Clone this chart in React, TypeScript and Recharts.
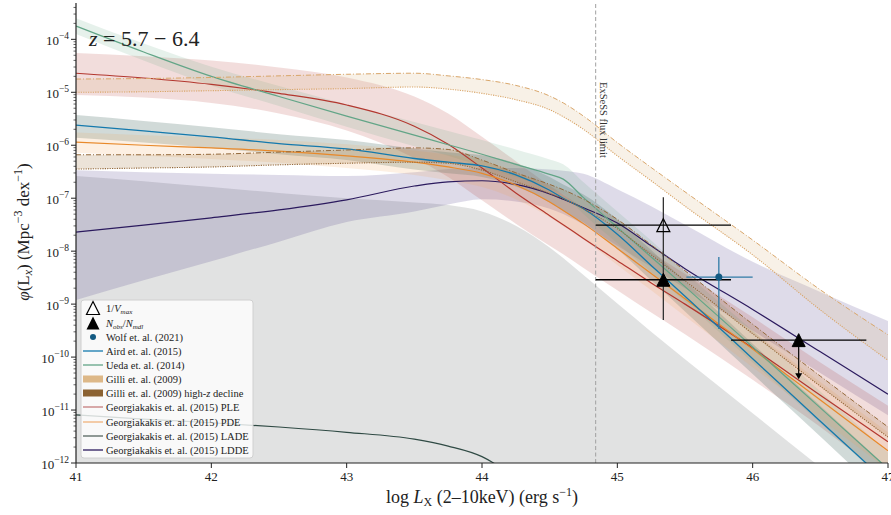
import React from 'react';
import { ComposedChart, Area, Line, Scatter, XAxis, YAxis, ReferenceLine, ErrorBar } from 'recharts';

const W = 891;
const H = 515;
const SERIF = '"Liberation Serif", "DejaVu Serif", serif';

// log10 L_X grid (erg/s) shared by the model curves
const LOG_LX = [41, 41.5, 42, 42.5, 43, 43.5, 43.75, 44, 44.25, 44.5, 44.6, 44.75, 45, 45.25, 45.5, 46, 46.5, 47];

// everything below is log10 phi (Mpc^-3 dex^-1)
const UEDA = [-3.75, -4.24, -4.7, -5.08, -5.45, -5.81, -5.99, -6.17, -6.36, -6.55, -6.64, -6.99, -7.55, -8.11, -8.67, -9.81, -10.96, -12.11];
const UEDA_HI = [-3.6, -4.08, -4.52, -4.88, -5.23, -5.56, -5.73, -5.9, -6.08, -6.27, -6.36, -6.7, -7.25, -7.8, -8.4, -9.5, -10.65, -11.8];
const UEDA_LO = [-3.9, -4.4, -4.87, -5.26, -5.65, -6.02, -6.2, -6.4, -6.6, -6.82, -6.92, -7.3, -7.85, -8.4, -8.95, -10.1, -11.25, -12.4];

const AIRD = [-5.62, -5.73, -5.84, -5.97, -6.07, -6.25, -6.32, -6.39, -6.56, -6.85, -7.0, -7.2, -7.68, -8.27, -8.85, -10.03, -11.21, -12.38];
const AIRD_HI = [-5.43, -5.54, -5.66, -5.79, -5.9, -6.06, -6.13, -6.19, -6.34, -6.6, -6.74, -6.93, -7.4, -7.98, -8.56, -9.75, -10.92, -12.1];
const AIRD_LO = [-5.86, -5.95, -6.05, -6.17, -6.28, -6.46, -6.53, -6.6, -6.78, -7.08, -7.24, -7.46, -7.96, -8.55, -9.14, -10.32, -11.5, -12.7];

const GILLI_HI = [-4.75, -4.74, -4.72, -4.69, -4.66, -4.64, -4.69, -4.76, -4.87, -5.07, -5.2, -5.45, -5.95, -6.42, -6.88, -7.79, -8.73, -9.58];
const GILLI_LO = [-5.0, -4.99, -4.97, -4.95, -4.93, -4.9, -4.94, -5.02, -5.14, -5.33, -5.46, -5.7, -6.2, -6.67, -7.15, -8.07, -9.11, -10.06];

const GILLI_HZ_HI = [-6.18, -6.18, -6.17, -6.13, -6.09, -6.05, -6.08, -6.28, -6.52, -6.74, -6.84, -7.02, -7.4, -7.88, -8.37, -9.38, -10.36, -11.32];
const GILLI_HZ_LO = [-6.45, -6.43, -6.41, -6.37, -6.34, -6.32, -6.34, -6.47, -6.69, -6.91, -7.01, -7.2, -7.58, -8.07, -8.56, -9.56, -10.55, -11.51];

const PLE = [-4.64, -4.73, -4.85, -5.02, -5.24, -5.64, -5.98, -6.43, -6.9, -7.33, -7.5, -7.76, -8.18, -8.6, -9.0, -9.83, -10.72, -11.6];
const PLE_HI = [-4.26, -4.32, -4.4, -4.53, -4.72, -5.08, -5.4, -5.84, -6.3, -6.76, -6.93, -7.18, -7.6, -8.02, -8.43, -9.25, -10.1, -10.92];
const PLE_LO = [-5.05, -5.1, -5.2, -5.4, -5.72, -6.24, -6.6, -7.04, -7.48, -7.9, -8.06, -8.32, -8.74, -9.16, -9.57, -10.43, -11.32, -12.3];

const PDE = [-5.94, -6.0, -6.05, -6.11, -6.2, -6.32, -6.41, -6.53, -6.75, -7.07, -7.23, -7.48, -7.95, -8.42, -8.9, -9.85, -10.81, -11.77];
const PDE_HI = [-5.76, -5.81, -5.85, -5.9, -5.98, -6.1, -6.18, -6.29, -6.5, -6.8, -6.95, -7.19, -7.65, -8.11, -8.58, -9.52, -10.47, -11.42];
const PDE_LO = [-6.14, -6.2, -6.26, -6.33, -6.43, -6.56, -6.66, -6.79, -7.02, -7.36, -7.53, -7.78, -8.26, -8.74, -9.23, -10.19, -11.16, -12.13];

const LADE = [-11.09, -11.17, -11.24, -11.32, -11.42, -11.55, -11.68, -11.88, -12.3, -12.9, -13.2, -13.7, -14.5, -15, -15.5, -16, -16.5, -17];
const LADE_HI = [-6.58, -6.68, -6.79, -6.9, -7.0, -7.08, -7.13, -7.25, -7.52, -7.93, -8.13, -8.45, -8.99, -9.52, -10.04, -11.06, -12.08, -13.1];
const BAND_FLOOR = -16;

const LDDE = [-7.64, -7.51, -7.37, -7.22, -7.03, -6.77, -6.69, -6.67, -6.74, -6.92, -7.02, -7.18, -7.47, -7.9, -8.33, -9.1, -9.9, -10.7];
const LDDE_HI = [-6.47, -6.51, -6.54, -6.56, -6.58, -6.51, -6.45, -6.43, -6.43, -6.46, -6.48, -6.54, -6.83, -7.15, -7.5, -8.2, -8.77, -9.32];
const LDDE_LO = [-8.92, -8.55, -8.19, -7.82, -7.45, -7.25, -7.12, -7.02, -7.06, -7.2, -7.3, -7.5, -7.9, -8.3, -8.7, -9.5, -10.3, -11.1];

// measured points (log L_X, log phi)
const OBS_LX = [45.34];
const OBS_LX_LO = [44.84];
const OBS_LX_HI = [45.84];
const VMAX_PHI = [-7.51];
const VMAX_PHI_LO = [-8.1];
const VMAX_PHI_HI = [-6.98];
const NOBS_PHI = [-8.54];
const NOBS_PHI_LO = [-9.3];
const NOBS_PHI_HI = [-8.0];

const UL_LX = [46.34];
const UL_LX_LO = [45.84];
const UL_LX_HI = [46.84];
const UL_PHI = [-9.68];

const WOLF_LX = [45.75];
const WOLF_LX_LO = [45.51];
const WOLF_LX_HI = [46.0];
const WOLF_PHI = [-8.49];
const WOLF_PHI_LO = [-9.47];
const WOLF_PHI_HI = [-8.11];

const FLUX_LIMIT = 44.84;

const C = {
  ueda: '#62a587',
  uedaBand: '#5aa07a',
  aird: '#1479ad',
  airdBand: '#466d64',
  gilli: '#d9a66a',
  gilliBand: '#deb887',
  gilliHz: '#94693a',
  gilliHzBand: '#a0723c',
  ple: '#b3372f',
  pde: '#e8892a',
  pdeBand: '#f0a050',
  lade: '#2f4a44',
  ladeBand: '#5a5f5c',
  ldde: '#2b1a5e',
  lddeBand: '#3b2a7a',
  wolf: '#135a82',
  wolfBar: '#2f7ba6',
};

const p10 = (v: number) => Math.pow(10, v);

const rows = LOG_LX.map((x, i) => ({
  x,
  ueda: p10(UEDA[i]),
  uedaBand: [p10(UEDA_LO[i]), p10(UEDA_HI[i])],
  aird: p10(AIRD[i]),
  airdBand: [p10(AIRD_LO[i]), p10(AIRD_HI[i])],
  gilliHi: p10(GILLI_HI[i]),
  gilliLo: p10(GILLI_LO[i]),
  gilliBand: [p10(GILLI_LO[i]), p10(GILLI_HI[i])],
  gilliHzHi: p10(GILLI_HZ_HI[i]),
  gilliHzLo: p10(GILLI_HZ_LO[i]),
  gilliHzBand: [p10(GILLI_HZ_LO[i]), p10(GILLI_HZ_HI[i])],
  ple: p10(PLE[i]),
  pleBand: [p10(PLE_LO[i]), p10(PLE_HI[i])],
  pde: p10(PDE[i]),
  pdeBand: [p10(PDE_LO[i]), p10(PDE_HI[i])],
  lade: p10(LADE[i]),
  ladeBand: [p10(BAND_FLOOR), p10(LADE_HI[i])],
  ldde: p10(LDDE[i]),
  lddeBand: [p10(LDDE_LO[i]), p10(LDDE_HI[i])],
}));

const pointRows = (lx: number[], lxLo: number[], lxHi: number[], phi: number[], phiLo?: number[], phiHi?: number[]) =>
  lx.map((x, i) => ({
    x,
    y: p10(phi[i]),
    ex: [x - lxLo[i], lxHi[i] - x],
    ey: phiLo && phiHi ? [p10(phi[i]) - p10(phiLo[i]), p10(phiHi[i]) - p10(phi[i])] : [0, 0],
  }));

const vmaxPts = pointRows(OBS_LX, OBS_LX_LO, OBS_LX_HI, VMAX_PHI, VMAX_PHI_LO, VMAX_PHI_HI);
const nobsPts = pointRows(OBS_LX, OBS_LX_LO, OBS_LX_HI, NOBS_PHI, NOBS_PHI_LO, NOBS_PHI_HI);
const ulPts = pointRows(UL_LX, UL_LX_LO, UL_LX_HI, UL_PHI);
const wolfPts = pointRows(WOLF_LX, WOLF_LX_LO, WOLF_LX_HI, WOLF_PHI, WOLF_PHI_LO, WOLF_PHI_HI);

const Y_MIN = 1e-12;
const Y_MAX = p10(-3.314);

const yTicks: number[] = [];
for (let n = -12; n <= -4; n++) {
  for (let k = 1; k <= 9; k++) {
    const v = k * Number(`1e${n}`);
    if (v <= Y_MAX) yTicks.push(v);
  }
}

const YTick = (props: any) => {
  const { x, y, payload } = props;
  const lg = Math.log10(payload.value);
  const major = Math.abs(lg - Math.round(lg)) < 1e-6;
  return (
    <g>
      <line x1={x - (major ? 5 : 2.5)} x2={x} y1={y} y2={y} stroke="#222" strokeWidth={major ? 1 : 0.7} />
      {major && (
        <text x={x - 7} y={y + 5.5} textAnchor="end" fontFamily={SERIF} fontSize={13} fill="#222">
          10<tspan dy={-5.5} fontSize={9.5}>{`−${-Math.round(lg)}`}</tspan>
        </text>
      )}
    </g>
  );
};

const XTick = (props: any) => {
  const { x, y, payload } = props;
  return (
    <g>
      <line x1={x} x2={x} y1={y} y2={y + 5} stroke="#222" strokeWidth={1} />
      <text x={x} y={y + 18} textAnchor="middle" fontFamily={SERIF} fontSize={13} fill="#222">
        {payload.value}
      </text>
    </g>
  );
};

const triPath = (cx: number, cy: number, s = 6.5) => `M${cx},${cy - s} L${cx + s},${cy + s} L${cx - s},${cy + s} Z`;

const OpenTri = (p: any) => <path d={triPath(p.cx, p.cy)} fill="none" stroke="#000" strokeWidth={1.2} />;
const FilledTri = (p: any) => <path d={triPath(p.cx, p.cy)} fill="#000" stroke="#000" strokeWidth={1} />;
const UpperLimit = (p: any) => (
  <g>
    <line x1={p.cx} x2={p.cx} y1={p.cy} y2={p.cy + 34} stroke="#000" strokeWidth={1.2} />
    <path d={`M${p.cx - 3.5},${p.cy + 33} L${p.cx + 3.5},${p.cy + 33} L${p.cx},${p.cy + 39} Z`} fill="#000" />
    <path d={triPath(p.cx, p.cy)} fill="#000" stroke="#000" strokeWidth={1} />
  </g>
);
const WolfDot = (p: any) => <circle cx={p.cx} cy={p.cy} r={3.5} fill={C.wolf} />;

const LEGEND_LINES = [
  { label: 'Aird et. al. (2015)', color: C.aird },
  { label: 'Ueda et. al. (2014)', color: C.ueda },
];
const LEGEND_GEORGIAKAKIS = [
  { label: 'Georgiakakis et. al. (2015) PLE', color: '#c47c7c' },
  { label: 'Georgiakakis et. al. (2015) PDE', color: '#f0b27a' },
  { label: 'Georgiakakis et. al. (2015) LADE', color: '#56655f' },
  { label: 'Georgiakakis et. al. (2015) LDDE', color: C.ldde },
];

const LegendBox = () => {
  const ix0 = 83;
  const ix1 = 103;
  const tx = 106;
  const fs = 10.5;
  const rowY = [308, 323, 337, 351, 365, 379, 393, 407, 422, 436, 450];
  const txt = (i: number, content: React.ReactNode) => (
    <text x={tx} y={rowY[i] + 3.5} fontFamily={SERIF} fontSize={fs} fill="#222">
      {content}
    </text>
  );
  return (
    <g>
      <rect x={81} y={300} width={172} height={158} rx={3} fill="#fff" fillOpacity={0.8} stroke="#d0d0d0" />
      <path d={triPath(93, rowY[0])} fill="#fff" stroke="#000" strokeWidth={1.2} />
      {txt(0, <><tspan>1/</tspan><tspan fontStyle="italic">V</tspan><tspan fontStyle="italic" fontSize={7} dy={2}>max</tspan></>)}
      <path d={triPath(93, rowY[1])} fill="#000" />
      {txt(1, <><tspan fontStyle="italic">N</tspan><tspan fontStyle="italic" fontSize={7} dy={2}>obs</tspan><tspan dy={-2}>/</tspan><tspan fontStyle="italic">N</tspan><tspan fontStyle="italic" fontSize={7} dy={2}>mdl</tspan></>)}
      <circle cx={93} cy={rowY[2]} r={3} fill={C.wolf} />
      {txt(2, 'Wolf et. al. (2021)')}
      {LEGEND_LINES.map((e, i) => (
        <g key={e.label}>
          <line x1={ix0} x2={ix1} y1={rowY[3 + i]} y2={rowY[3 + i]} stroke={e.color} strokeWidth={1.3} />
          {txt(3 + i, e.label)}
        </g>
      ))}
      <rect x={ix0} y={rowY[5] - 3.5} width={ix1 - ix0} height={7} fill="#ddb888" />
      {txt(5, 'Gilli et. al. (2009)')}
      <rect x={ix0} y={rowY[6] - 3.5} width={ix1 - ix0} height={7} fill="#8b6232" />
      {txt(6, <>Gilli et. al. (2009) high-<tspan fontStyle="italic">z</tspan> decline</>)}
      {LEGEND_GEORGIAKAKIS.map((e, i) => (
        <g key={e.label}>
          <line x1={ix0} x2={ix1} y1={rowY[7 + i]} y2={rowY[7 + i]} stroke={e.color} strokeWidth={1.3} />
          {txt(7 + i, e.label)}
        </g>
      ))}
    </g>
  );
};

const band = (key: string, color: string, opacity: number) => (
  <Area
    key={key}
    dataKey={key}
    type="monotone"
    fill={color}
    fillOpacity={opacity}
    stroke="none"
    dot={false}
    activeDot={false}
    isAnimationActive={false}
  />
);

const curve = (key: string, color: string, width = 1.2, dash?: string) => (
  <Line
    key={key}
    dataKey={key}
    type="monotone"
    stroke={color}
    strokeWidth={width}
    strokeDasharray={dash}
    dot={false}
    activeDot={false}
    isAnimationActive={false}
  />
);

export default function App() {
  return (
    <div style={{ position: 'absolute', left: 0, top: 0, width: W, height: H, background: '#fff' }}>
      <ComposedChart width={W} height={H} data={rows} margin={{ top: 3, right: 3, bottom: 0, left: 0 }}>
        <XAxis
          dataKey="x"
          type="number"
          domain={[41, 47]}
          ticks={[41, 42, 43, 44, 45, 46, 47]}
          interval={0}
          allowDataOverflow
          height={52}
          tickSize={0}
          tickMargin={0}
          tickLine={false}
          tick={<XTick />}
          axisLine={{ stroke: '#222', strokeWidth: 1.2 }}
        />
        <XAxis xAxisId="top" orientation="top" type="number" domain={[41, 47]} height={0} tick={false} tickLine={false} axisLine={{ stroke: '#222', strokeWidth: 1.2 }} />
        <YAxis
          type="number"
          scale="log"
          domain={[Y_MIN, Y_MAX]}
          ticks={yTicks}
          interval={0}
          allowDataOverflow
          width={76}
          tickSize={0}
          tickMargin={0}
          tickLine={false}
          tick={<YTick />}
          axisLine={{ stroke: '#222', strokeWidth: 1.2 }}
        />
        <YAxis yAxisId="right" orientation="right" type="number" domain={[0, 1]} width={0} tick={false} tickLine={false} axisLine={{ stroke: '#222', strokeWidth: 1.2 }} />

        {band('ladeBand', C.ladeBand, 0.18)}
        {band('lddeBand', C.lddeBand, 0.17)}
        {band('pleBand', C.ple, 0.17)}
        {band('airdBand', C.airdBand, 0.25)}
        {band('uedaBand', C.uedaBand, 0.15)}
        {band('pdeBand', C.pdeBand, 0.16)}
        {band('gilliBand', C.gilliBand, 0.2)}
        {band('gilliHzBand', C.gilliHzBand, 0.2)}

        {curve('lade', C.lade)}
        {curve('ldde', C.ldde)}
        {curve('ple', C.ple)}
        {curve('pde', C.pde)}
        {curve('ueda', C.ueda)}
        {curve('aird', C.aird, 1.3)}
        {curve('gilliHi', C.gilli, 1, '5 2 1 2')}
        {curve('gilliLo', C.gilli, 1.1, '1.2 1.2')}
        {curve('gilliHzHi', C.gilliHz, 1, '5 2 1 2')}
        {curve('gilliHzLo', C.gilliHz, 1.1, '1.2 1.2')}

        <ReferenceLine x={FLUX_LIMIT} stroke="#a0a0a0" strokeWidth={1} strokeDasharray="4 2.5" />

        <Scatter data={vmaxPts} dataKey="y" shape={<OpenTri />} isAnimationActive={false}>
          <ErrorBar dataKey="ey" direction="y" width={0} stroke="#333" strokeWidth={1.3} />
          <ErrorBar dataKey="ex" direction="x" width={0} stroke="#000" strokeWidth={1.3} />
        </Scatter>
        <Scatter data={nobsPts} dataKey="y" shape={<FilledTri />} isAnimationActive={false}>
          <ErrorBar dataKey="ey" direction="y" width={0} stroke="#333" strokeWidth={1.3} />
          <ErrorBar dataKey="ex" direction="x" width={0} stroke="#000" strokeWidth={1.3} />
        </Scatter>
        <Scatter data={wolfPts} dataKey="y" shape={<WolfDot />} isAnimationActive={false}>
          <ErrorBar dataKey="ey" direction="y" width={0} stroke={C.wolfBar} strokeWidth={1.3} />
          <ErrorBar dataKey="ex" direction="x" width={0} stroke={C.wolfBar} strokeWidth={1.3} />
        </Scatter>
        <Scatter data={ulPts} dataKey="y" shape={<UpperLimit />} isAnimationActive={false}>
          <ErrorBar dataKey="ex" direction="x" width={0} stroke="#000" strokeWidth={1.3} />
        </Scatter>
      </ComposedChart>

      <svg width={W} height={H} style={{ position: 'absolute', left: 0, top: 0, pointerEvents: 'none' }}>
        <text x={89} y={46} fontFamily={SERIF} fontSize={22} fill="#222">
          <tspan fontStyle="italic">z</tspan> = 5.7 − 6.4
        </text>
        <text x={600} y={82} transform="rotate(90 600 82)" fontFamily={SERIF} fontSize={10.5} fill="#333">
          ExSeSS flux limit
        </text>
        <text transform="translate(29 232) rotate(-90)" textAnchor="middle" fontFamily={SERIF} fontSize={17} fill="#222">
          <tspan fontStyle="italic">φ</tspan>(L<tspan fontStyle="italic" fontSize={12} dy={3}>x</tspan><tspan dy={-3}>) (Mpc</tspan>
          <tspan fontSize={12} dy={-7}>−3</tspan>
          <tspan dy={7}> dex</tspan>
          <tspan fontSize={12} dy={-7}>−1</tspan>
          <tspan dy={7}>)</tspan>
        </text>
        <text x={482} y={503} textAnchor="middle" fontFamily={SERIF} fontSize={18} fill="#222">
          log <tspan fontStyle="italic">L</tspan><tspan fontSize={12} dy={3}>X</tspan><tspan dy={-3}> (2–10keV) (erg s</tspan>
          <tspan fontSize={12} dy={-7}>−1</tspan>
          <tspan dy={7}>)</tspan>
        </text>
        <LegendBox />
      </svg>
    </div>
  );
}
